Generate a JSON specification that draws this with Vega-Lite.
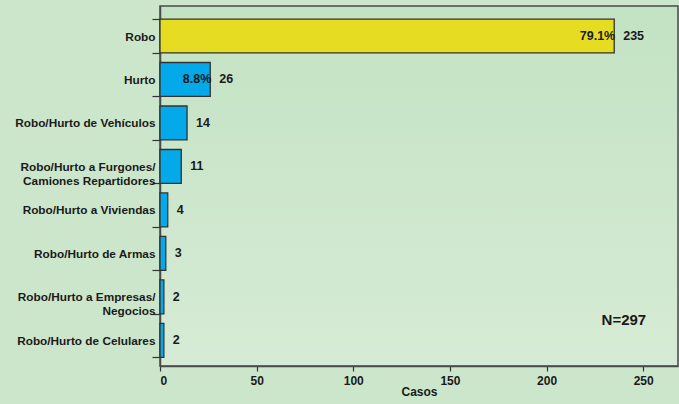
{
  "$schema": "https://vega.github.io/schema/vega-lite/v6.json",
  "width": 518,
  "height": 360,
  "autosize": {"type": "none"},
  "padding": {"left": 160, "top": 6, "right": 1, "bottom": 38},
  "background": "#cce6cb",
  "config": {
    "font": "Liberation Sans",
    "view": {"stroke": "#4a4a4a", "strokeWidth": 1.5, "fill": {"gradient": "linear", "x1": 0, "y1": 0, "x2": 0, "y2": 1, "stops": [{"offset": 0, "color": "#c3e2c3"}, {"offset": 1, "color": "#d6ebd5"}]}},
    "axis": {"labelFont": "Liberation Sans", "titleFont": "Liberation Sans", "labelFontWeight": "bold", "titleFontWeight": "bold", "labelColor": "#1a1a1a", "titleColor": "#1a1a1a", "domainColor": "#4a4a4a", "tickColor": "#333333", "domainWidth": 1.5, "tickWidth": 1.2, "grid": false}
  },
  "data": {
    "values": [
      {"categoria": "Robo", "casos": 235, "pct": "79.1%", "tipo": "a"},
      {"categoria": "Hurto", "casos": 26, "pct": "8.8%", "tipo": "b"},
      {"categoria": "Robo/Hurto de Vehículos", "casos": 14, "pct": null, "tipo": "b"},
      {"categoria": "Robo/Hurto a Furgones/ Camiones Repartidores", "casos": 11, "pct": null, "tipo": "b"},
      {"categoria": "Robo/Hurto a Viviendas", "casos": 4, "pct": null, "tipo": "b"},
      {"categoria": "Robo/Hurto de Armas", "casos": 3, "pct": null, "tipo": "b"},
      {"categoria": "Robo/Hurto a Empresas/ Negocios", "casos": 2, "pct": null, "tipo": "b"},
      {"categoria": "Robo/Hurto de Celulares", "casos": 2, "pct": null, "tipo": "b"}
    ]
  },
  "encoding": {
    "y": {
      "field": "categoria", "type": "nominal", "sort": null,
      "scale": {"paddingInner": 0.22, "paddingOuter": 0.25, "align": 0.6},
      "axis": {"title": null, "tickBand": "extent", "tickSize": 8, "labelPadding": -3, "labelFontSize": 11.8, "labelLineHeight": 14, "labelLimit": 200,
        "labelExpr": "split(replace(datum.label, '/ ', '/|'), '|')"}
    },
    "x": {
      "field": "casos", "type": "quantitative",
      "scale": {"domain": [0, 268], "nice": false},
      "axis": {"title": "Casos", "values": [0, 50, 100, 150, 200, 250], "tickSize": 5, "labelFontSize": 12, "titleFontSize": 12, "labelPadding": 4, "titlePadding": 0}
    }
  },
  "layer": [
    {
      "mark": {"type": "bar", "stroke": "#333333", "strokeWidth": 1.3},
      "encoding": {
        "color": {"field": "tipo", "type": "nominal", "scale": {"domain": ["a", "b"], "range": ["#e6dd22", "#04a9ea"]}, "legend": null}
      }
    },
    {
      "mark": {"type": "text", "align": "left", "dx": 9, "fontSize": 12.5, "fontWeight": "bold", "color": "#1a1a1a"},
      "encoding": {"text": {"field": "casos", "type": "quantitative"}}
    },
    {
      "transform": [{"filter": "datum.pct != null"}],
      "mark": {"type": "text", "align": "right", "dx": 1, "fontSize": 12.5, "fontWeight": "bold", "color": "#1a1a1a"},
      "encoding": {"text": {"field": "pct", "type": "nominal"}}
    },
    {
      "data": {"values": [{"texto": "N=297", "x": 240, "y": "Robo/Hurto a Empresas/ Negocios"}]},
      "mark": {"type": "text", "align": "center", "baseline": "middle", "fontSize": 15, "fontWeight": "bold", "color": "#1a1a1a"},
      "encoding": {
        "x": {"field": "x", "type": "quantitative"},
        "y": {"field": "y", "type": "nominal", "bandPosition": 1.18},
        "text": {"field": "texto", "type": "nominal"}
      }
    }
  ]
}
